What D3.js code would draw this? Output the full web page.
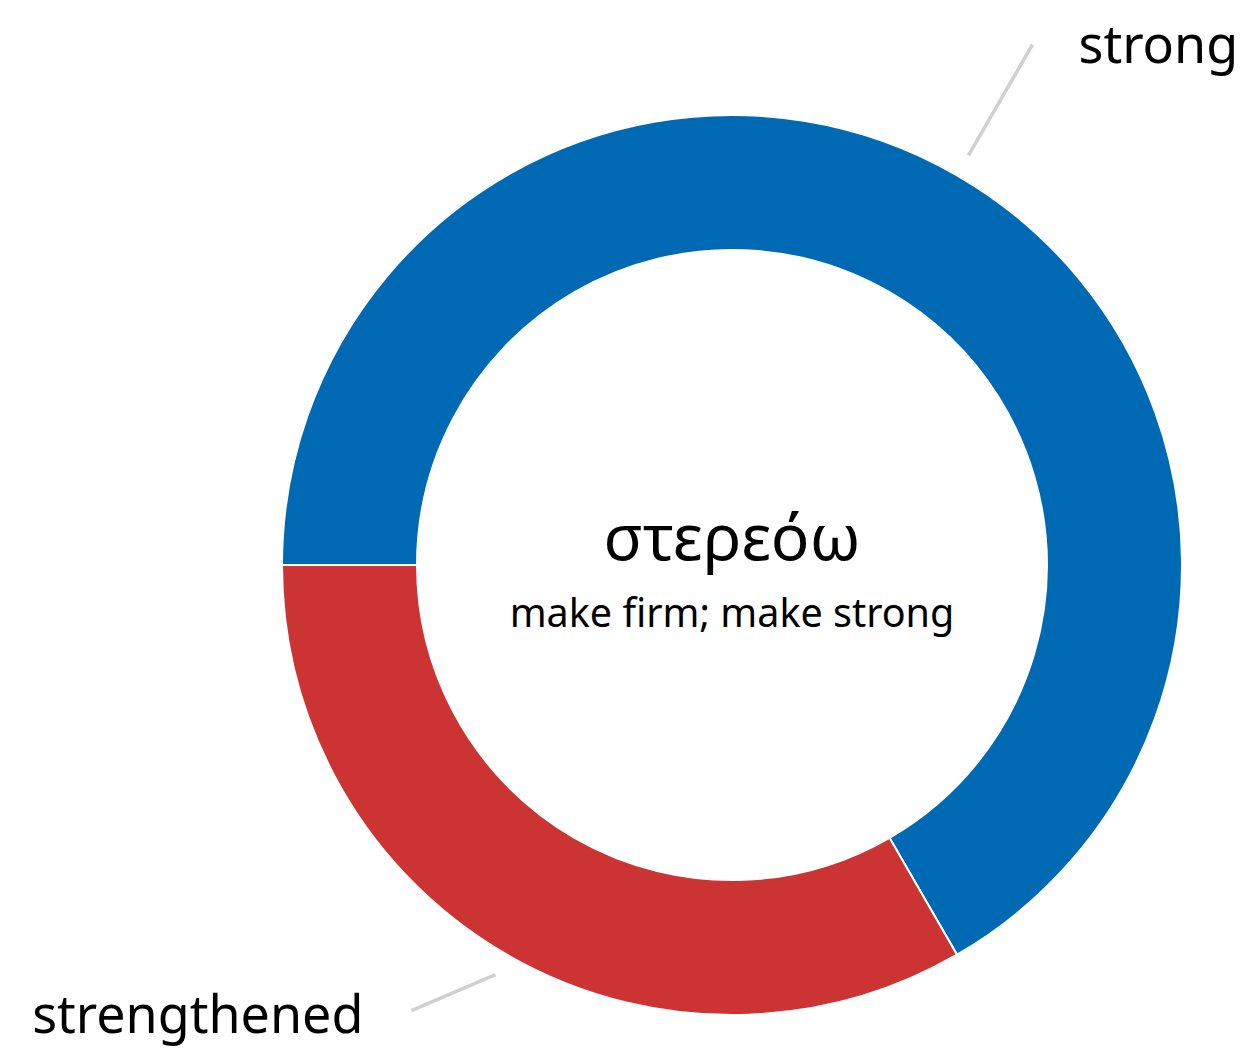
<!DOCTYPE html>
<html>
<head>
<meta charset="utf-8">
<script src="https://cdn.jsdelivr.net/npm/d3@7"></script>
<style>
  body { margin: 0; background: #fff; }
  text { font-family: "Noto Sans", sans-serif; fill: #000; }
</style>
</head>
<body>
<div id="chart"></div>
<script>
// data
const glosses = ["strong", "strengthened"];
const counts = [2, 1];
const sliceColors = ["#0069b4", "#cc3333"];
const lemma = "στερεόω";
const definition = "make firm; make strong";

const width = 1250, height = 1051;
const cx = 732, cy = 565;
const outerR = 450, innerR = 315;

const svg = d3.select("#chart")
    .append("svg")
    .attr("width", width)
    .attr("height", height);

const g = svg.append("g")
    .attr("transform", `translate(${cx},${cy})`);

const pie = d3.pie()
    .value(d => d.count)
    .sort(null)
    .startAngle(-Math.PI / 2)
    .endAngle(Math.PI * 1.5);

const data = glosses.map((gl, i) => ({ gloss: gl, count: counts[i], color: sliceColors[i] }));
const arcs = pie(data);

const arc = d3.arc().innerRadius(innerR).outerRadius(outerR);

g.selectAll("path.slice")
    .data(arcs)
    .join("path")
    .attr("class", "slice")
    .attr("d", arc)
    .attr("fill", d => d.data.color)
    .attr("stroke", "#fff")
    .attr("stroke-width", 2);

// leader lines + labels
const lineStart = d3.arc().innerRadius(473).outerRadius(473);
const lineEnd = d3.arc().innerRadius(601).outerRadius(601);
// the bottom label is pulled in so it stays inside the page
const maxY = height - cy - 6 - 49;

arcs.forEach(d => {
    const p0 = lineStart.centroid(d);
    let p1 = lineEnd.centroid(d);
    let low = false;
    if (p1[1] > maxY) {
        const mid = (d.startAngle + d.endAngle) / 2;
        const a = mid + 0.1; // swing toward the left
        const r = 549;
        p1 = [r * Math.sin(a), -r * Math.cos(a)];
        low = true;
    }
    g.append("line")
        .attr("x1", p0[0]).attr("y1", p0[1])
        .attr("x2", p1[0]).attr("y2", p1[1])
        .attr("stroke", "#d0d0d0")
        .attr("stroke-width", 3.5);
    const right = p1[0] > 0;
    g.append("text")
        .attr("x", p1[0] + (right ? 46 : -48))
        .attr("y", p1[1] + (low ? 4 : 0))
        .attr("dy", "0.35em")
        .attr("text-anchor", right ? "start" : "end")
        .style("font-size", "52px")
        .text(d.data.gloss);
});

// center text
g.append("text")
    .attr("x", 0)
    .attr("y", -5)
    .attr("text-anchor", "middle")
    .style("font-size", "64px")
    .text(lemma);

g.append("text")
    .attr("x", 0)
    .attr("y", 62)
    .attr("text-anchor", "middle")
    .style("font-size", "39.5px")
    .text(definition);
</script>
</body>
</html>
